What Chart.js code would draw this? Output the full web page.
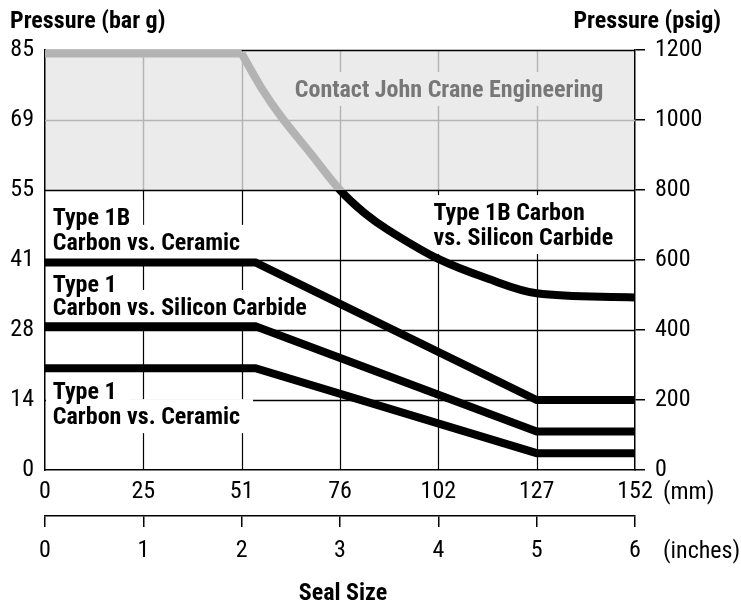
<!DOCTYPE html>
<html><head><meta charset="utf-8">
<script src="https://cdn.jsdelivr.net/npm/chart.js@4.4.1/dist/chart.umd.min.js"></script>
<style>html,body{margin:0;padding:0;background:#fff}#wrap{width:741px;height:605px}</style>
</head><body><div id="wrap"><canvas id="c" width="741" height="605"></canvas></div>
<script>
// ---- data ----
const inchTicks = [0, 1, 2, 3, 4, 5, 6];
const inchLabels = ['0', '1', '2', '3', '4', '5', '6'];
const mmLabels = ['0', '25', '51', '76', '102', '127', '152'];
const psigTicks = [0, 200, 400, 600, 800, 1000, 1200];
const psigLabels = ['0', '200', '400', '600', '800', '1000', '1200'];
const barLabels = ['0', '14', '28', '41', '55', '69', '85'];

const limitFlatX = [0, 2];
const limitFlatY = [1190, 1190];
const type1BSiCX = [2, 2.2, 2.4, 2.7, 3, 3.25, 3.5, 4, 4.5, 5, 6];
const type1BSiCY = [1190, 1092, 1010, 905, 800, 734, 684, 603, 547, 505, 493];
const type1BCerX = [0, 2.14, 5, 6];
const type1BCerY = [593, 593, 200, 200];
const type1SiCX = [0, 2.14, 5, 6];
const type1SiCY = [411, 411, 110, 110];
const type1CerX = [0, 2.14, 5, 6];
const type1CerY = [291, 291, 48, 48];
const contactLimit = 800;

// ---- styles ----
const FONT = "'Roboto Condensed','Liberation Sans',sans-serif";
const FS = 24;
const GRAY_LINE = '#b3b3b3';
const GRAY_FILL = '#ebebeb';
const GRAY_GRID = '#b4b4b4';

const pts = (xs, ys) => xs.map((v, i) => ({ x: v, y: ys[i] }));

// annotation labels (positions in data units: inches / psig)
const annotations = [
  { lines: ['Type 1B', 'Carbon vs. Ceramic'], x: 0.08, y: [700, 629], color: '#000', bg: '#fff' },
  { lines: ['Type 1', 'Carbon vs. Silicon Carbide'], x: 0.08, y: [509, 443], color: '#000', bg: '#fff' },
  { lines: ['Type 1', 'Carbon vs. Ceramic'], x: 0.08, y: [203, 131], color: '#000', bg: '#fff' },
  { lines: ['Type 1B Carbon', 'vs. Silicon Carbide'], x: 3.95, y: [714, 643], color: '#000', bg: '#fff' },
  { lines: ['Contact John Crane Engineering'], x: 2.54, y: [1066], color: '#777', bg: GRAY_FILL }
];

const decor = {
  id: 'decor',
  beforeDraw(chart) {
    const { ctx, chartArea: a, scales: { y } } = chart;
    ctx.save();
    ctx.fillStyle = GRAY_FILL;
    const yTop = y.getPixelForValue(1200), yLim = y.getPixelForValue(contactLimit);
    ctx.fillRect(a.left, yTop, a.right - a.left, yLim - yTop);
    ctx.restore();
  },
  beforeDatasetsDraw(chart) {
    const { ctx, chartArea: a, scales: { x, y } } = chart;
    const yLim = y.getPixelForValue(contactLimit);
    ctx.save();
    inchTicks.slice(1, -1).forEach(v => {
      const px = Math.round(x.getPixelForValue(v)) + 0.5;
      ctx.lineWidth = 1.5; ctx.strokeStyle = GRAY_GRID;
      ctx.beginPath(); ctx.moveTo(px, a.top); ctx.lineTo(px, yLim); ctx.stroke();
      ctx.lineWidth = 1.2; ctx.strokeStyle = '#000';
      ctx.beginPath(); ctx.moveTo(px, yLim); ctx.lineTo(px, a.bottom); ctx.stroke();
    });
    psigTicks.slice(1).forEach(v => {
      const py = Math.round(y.getPixelForValue(v)) + 0.5;
      ctx.strokeStyle = (v > contactLimit && v < 1200) ? GRAY_GRID : '#000';
      ctx.lineWidth = 1.5;
      ctx.beginPath(); ctx.moveTo(a.left, py); ctx.lineTo(a.right, py); ctx.stroke();
    });
    // label background boxes, clipped to the plot area
    ctx.save();
    ctx.beginPath(); ctx.rect(a.left + 1, a.top + 1, a.right - a.left - 2, a.bottom - a.top - 2); ctx.clip();
    ctx.font = 'bold ' + FS + 'px ' + FONT;
    annotations.forEach(an => {
      const tx = x.getPixelForValue(an.x);
      an.lines.forEach((line, i) => {
        const by = y.getPixelForValue(an.y[i]);
        const w = ctx.measureText(line).width;
        ctx.fillStyle = an.bg;
        ctx.fillRect(tx - 7, by - 25, w + 20, 34);
      });
    });
    ctx.restore();
    ctx.font = 'bold ' + FS + 'px ' + FONT;
    ctx.textBaseline = 'alphabetic';
    ctx.textAlign = 'left';
    annotations.forEach(an => {
      const tx = x.getPixelForValue(an.x);
      ctx.fillStyle = an.color;
      an.lines.forEach((line, i) => ctx.fillText(line, tx, y.getPixelForValue(an.y[i])));
    });
    ctx.restore();
  },
  afterDraw(chart) {
    const { ctx, chartArea: a } = chart;
    ctx.save();
    ctx.fillStyle = '#000';
    ctx.font = 'bold ' + FS + 'px ' + FONT;
    ctx.textBaseline = 'alphabetic';
    ctx.textAlign = 'left';
    ctx.fillText('Pressure (bar g)', 10, 28);
    ctx.textAlign = 'right';
    ctx.fillText('Pressure (psig)', 721, 28);
    ctx.textAlign = 'center';
    ctx.fillText('Seal Size', (a.left + a.right) / 2 + 3, 600);
    ctx.font = FS + 'px ' + FONT;
    ctx.textAlign = 'left';
    ctx.textBaseline = 'middle';
    ctx.fillText('(mm)', a.right + 28, 493);
    ctx.fillText('(inches)', a.right + 28, 552);
    ctx.restore();
  }
};

// gray above the contact limit, black below, on one smooth path
const limitColor = c => {
  const ch = c.chart, a = ch.chartArea;
  if (!a) return '#000';
  const py = ch.scales.y.getPixelForValue(contactLimit);
  const t = Math.min(1, Math.max(0, (py - a.top) / (a.bottom - a.top)));
  const g = ch.ctx.createLinearGradient(0, a.top, 0, a.bottom);
  g.addColorStop(0, GRAY_LINE); g.addColorStop(t, GRAY_LINE);
  g.addColorStop(t, '#000'); g.addColorStop(1, '#000');
  return g;
};

const fixTicks = vals => s => { s.ticks = vals.map(v => ({ value: v })); };
const tickFont = { family: FONT, size: FS };

new Chart(document.getElementById('c'), {
  type: 'line',
  data: {
    datasets: [
      { data: pts(limitFlatX, limitFlatY), borderColor: GRAY_LINE, tension: 0 },
      { data: pts(type1BSiCX, type1BSiCY), borderColor: limitColor, tension: 0.35 },
      { data: pts(type1BCerX, type1BCerY), borderColor: '#000', tension: 0 },
      { data: pts(type1SiCX, type1SiCY), borderColor: '#000', tension: 0 },
      { data: pts(type1CerX, type1CerY), borderColor: '#000', tension: 0 }
    ].map(d => Object.assign({ borderWidth: 8, pointRadius: 0, fill: false, clip: 0, borderCapStyle: 'butt', borderJoinStyle: 'miter' }, d))
  },
  options: {
    responsive: false,
    animation: false,
    devicePixelRatio: 1,
    layout: { padding: { top: 50, left: 0, right: 0, bottom: 0 } },
    plugins: { legend: { display: false }, tooltip: { enabled: false } },
    scales: {
      x: {
        type: 'linear', position: 'bottom', min: 0, max: 6, weight: 0,
        afterBuildTicks: fixTicks(inchTicks),
        ticks: { callback: v => mmLabels[inchTicks.indexOf(v)], font: tickFont, color: '#000', padding: 8, maxRotation: 0, autoSkip: false },
        grid: { drawOnChartArea: false, drawTicks: false },
        border: { display: true, color: '#000', width: 1.5 },
        afterFit: s => { s.height = 46; }
      },
      x2: {
        type: 'linear', position: 'bottom', min: 0, max: 6, weight: 1,
        afterBuildTicks: fixTicks(inchTicks),
        ticks: { callback: v => inchLabels[inchTicks.indexOf(v)], font: tickFont, color: '#000', padding: 10, maxRotation: 0, autoSkip: false },
        grid: { drawOnChartArea: false, drawTicks: true, tickLength: 11, color: '#000', lineWidth: 1.5 },
        border: { display: true, color: '#000', width: 1.5 },
        afterFit: s => { s.height = 89; }
      },
      y: {
        type: 'linear', position: 'left', min: 0, max: 1200,
        afterBuildTicks: fixTicks(psigTicks),
        ticks: { callback: v => barLabels[psigTicks.indexOf(v)], font: tickFont, color: '#000', padding: 11 },
        grid: { drawOnChartArea: false, drawTicks: false },
        border: { display: true, color: '#000', width: 1.5 },
        afterFit: s => { s.width = 45; }
      },
      y2: {
        type: 'linear', position: 'right', min: 0, max: 1200,
        afterBuildTicks: fixTicks(psigTicks),
        ticks: { callback: v => psigLabels[psigTicks.indexOf(v)], font: tickFont, color: '#000', padding: 10 },
        grid: { drawOnChartArea: false, drawTicks: true, tickLength: 10, color: '#000', lineWidth: 1.5 },
        border: { display: true, color: '#000', width: 1.5 },
        afterFit: s => { s.width = 106; }
      }
    }
  },
  plugins: [decor]
});
</script>
</body></html>
